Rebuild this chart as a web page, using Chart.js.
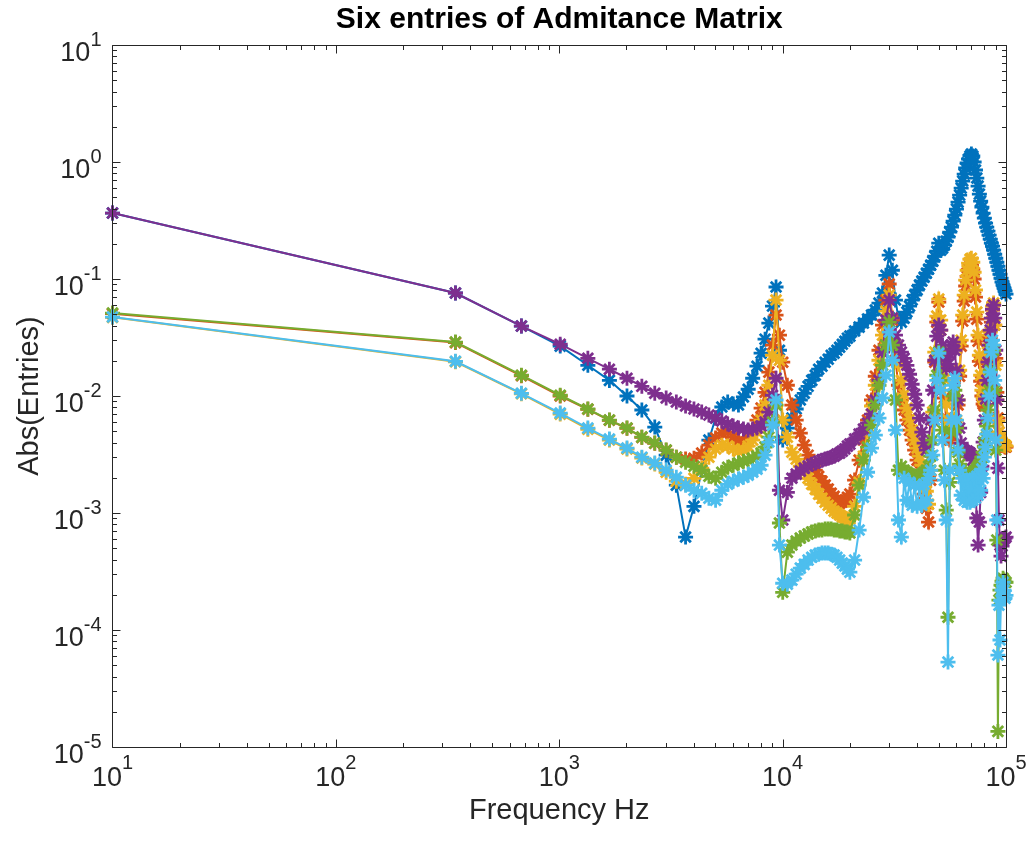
<!DOCTYPE html>
<html>
<head>
<meta charset="utf-8">
<script src="https://cdn.jsdelivr.net/npm/chart.js@4.4.0/dist/chart.umd.min.js"></script>
<style>
html,body{margin:0;padding:0;background:#ffffff;}
#wrap{width:1034px;height:848px;}
</style>
</head>
<body>
<div id="wrap"><canvas id="c" width="1034" height="848"></canvas></div>
<script>
// Frequency sweep points (Hz)
const freqHz = [10,343,677,1010,1343,1677,2010,2343,2677,3010,3343,3677,4010,4343,4677,5010,5343,5677,6010,6343,6677,7010,7343,7677,8010,8343,8677,9010,9343,9677,10010,
10500,11000,11500,12000,12500,13000,13500,14000,14500,15000,15500,16000,16500,17000,17500,18000,18500,19000,19500,20000,
21000,22000,23000,24000,25000,26000,27000,28000,29000,30000,
31000,32000,33000,34000,35000,36000,37000,38000,39000,40000,
41000,42000,43000,44000,45000,46000,47000,48000,49000,50000,
51000,52000,53000,54000,55000,56000,57000,58000,59000,60000,
61000,62000,63000,64000,65000,66000,67000,68000,69000,70000,
71000,72000,73000,74000,75000,76000,77000,78000,79000,80000,
81000,82000,83000,84000,85000,86000,87000,88000,89000,90000,
91000,92000,93000,94000,95000,96000,97000,98000,99000,100000];

// blue
const entry1 = [0.366,0.0759,0.0396,0.0267,0.0183,0.0136,0.0100,0.00759,0.00543,0.00312,0.00173,0.000623,0.00114,0.00232,0.0042,0.00648,0.00805,0.00888,0.00854,0.00837,0.00981,0.01142,0.01418,0.01797,0.02322,0.0306,0.042,0.0587,0.0854,0.0246,0.0042,
0.00532,0.00648,0.00774,0.00924,0.01055,0.0121,0.0136,0.01505,0.01694,0.01797,0.01945,0.0206,0.0223,0.0232,0.0246,0.0261,0.0277,0.0294,0.0312,0.0325,
0.0359,0.0388,0.042,0.0454,0.0492,0.0543,0.0623,0.0759,0.1076,0.160,
0.1188,0.0661,0.0463,0.0428,0.0463,0.0522,0.0587,0.0661,0.0729,0.0805,
0.0888,0.0961,0.1035,0.112,0.1211,0.1311,0.1418,0.1565,0.1728,0.2023,
0.1762,0.1833,0.1945,0.2104,0.2277,0.2513,0.2774,0.3122,0.3515,0.3957,
0.4542,0.5215,0.5987,0.6874,0.7891,0.8884,0.9805,1.061,1.126,1.171,
1.126,1.0,0.854,0.7293,0.6228,0.5319,0.4633,0.4116,0.3656,0.3313,
0.3002,0.2774,0.2563,0.2369,0.2189,0.2023,0.1907,0.1762,0.1628,0.1505,
0.1391,0.1285,0.1188,0.1098,0.1015,0.0943,0.0888,0.0837,0.0789,0.0744];

// orange
const entry2 = [0.0505,0.0286,0.0149,0.0100,0.0077,0.0062,0.0053,0.00443,0.00394,0.00344,0.003,0.00289,0.00294,0.00325,0.0038,0.00437,0.00482,0.00492,0.00445,0.00412,0.00404,0.00437,0.00511,0.00623,0.00789,0.01076,0.016,0.0272,0.0492,0.0331,0.01945,
0.01235,0.00837,0.00623,0.00482,0.0038,0.00312,0.00267,0.00232,0.00206,0.00187,0.00173,0.0016,0.001475,0.00139,0.001285,0.00121,0.00124,0.001285,0.001363,0.00145,
0.00191,0.00283,0.0042,0.00623,0.00924,0.01475,0.0246,0.0404,0.0661,0.0906,
0.0445,0.0202,0.01235,0.00924,0.00759,0.00623,0.00511,0.0042,0.00345,0.00283,
0.00232,0.00187,0.00145,0.0011,0.000837,0.00191,0.00623,0.01945,0.0428,0.0635,
0.0366,0.0166,0.00961,0.00648,0.00437,0.0042,0.00492,0.00599,0.00564,0.00543,
0.00837,0.01475,0.0267,0.0437,0.0648,0.0871,0.1055,0.1211,0.1285,0.1311,
0.1211,0.100,0.0701,0.0454,0.0294,0.0198,0.01337,0.0100,0.00854,0.00821,
0.01035,0.01337,0.01762,0.0237,0.0313,0.0428,0.0543,0.0599,0.0404,0.021,
0.01076,0.00648,0.00492,0.00428,0.00404,0.00388,0.0038,0.00373,0.00366,0.00366];

// yellow
const entry3 = [0.0470,0.0196,0.01045,0.0070,0.0052,0.0042,0.00352,0.00295,0.00262,0.00223,0.00187,0.00176,0.00198,0.00242,0.003,0.00352,0.0038,0.00373,0.00352,0.00338,0.00345,0.00373,0.0042,0.00492,0.00623,0.00837,0.01235,0.0223,0.0661,0.0202,0.00623,
0.00445,0.00331,0.00289,0.00251,0.00223,0.00198,0.00176,0.0016,0.00145,0.001337,0.001235,0.001164,0.0011,0.001035,0.001,0.000961,0.000924,0.000906,0.000888,0.000888,
0.00114,0.00183,0.00306,0.00501,0.00821,0.01235,0.0202,0.0331,0.0532,0.0729,
0.0463,0.0277,0.01869,0.0136,0.01035,0.00789,0.00635,0.00511,0.0042,0.00359,
0.00306,0.00256,0.00202,0.001535,0.001188,0.00232,0.00729,0.0237,0.0482,0.0674,
0.0445,0.0246,0.01391,0.00854,0.00623,0.00553,0.00564,0.00611,0.00635,0.0062,
0.00924,0.0166,0.030,0.0492,0.0729,0.098,0.1188,0.1363,0.1475,0.1505,
0.1391,0.1142,0.0805,0.0522,0.0331,0.0223,0.01505,0.0112,0.00961,0.00924,
0.01164,0.01505,0.01945,0.02563,0.0352,0.0463,0.0587,0.0623,0.0404,0.0183,
0.00924,0.00611,0.00492,0.00437,0.00412,0.00396,0.00388,0.0038,0.0038,0.00373];

// purple
const entry4 = [0.366,0.0759,0.0396,0.0277,0.0210,0.01694,0.01418,0.0121,0.01055,0.00961,0.00888,0.00821,0.00774,0.00729,0.00687,0.00648,0.00611,0.00576,0.00553,0.00532,0.00522,0.00511,0.00522,0.00532,0.00553,0.00599,0.00729,0.01015,0.01418,0.001565,0.000871,
0.0015,0.00198,0.00215,0.00228,0.00242,0.00251,0.00261,0.00267,0.00277,0.00283,0.00289,0.00294,0.003,0.00306,0.00319,0.00325,0.00338,0.00352,0.00373,0.00388,
0.00428,0.00473,0.00522,0.00587,0.00701,0.00924,0.0136,0.0237,0.0445,0.0661,
0.0463,0.0331,0.0272,0.0237,0.021,0.0183,0.01535,0.0126,0.01035,0.00837,
0.00648,0.00492,0.00396,0.00345,0.00388,0.00623,0.0112,0.0202,0.0325,0.0404,
0.0366,0.0272,0.021,0.01728,0.01869,0.02277,0.0272,0.0289,0.0246,0.0166,
0.00924,0.00532,0.00396,0.00352,0.00338,0.00331,0.00338,0.00331,0.00325,0.00312,
0.00283,0.00232,0.001565,0.000906,0.000532,0.000837,0.0015,0.00251,0.00404,0.00623,
0.00943,0.0136,0.01945,0.0272,0.0366,0.0463,0.0553,0.0599,0.0463,0.0246,
0.00924,0.00242,0.000871,0.000532,0.000428,0.000522,0.000576,0.000599,0.000611,0.000623];

// green
const entry5 = [0.0511,0.0289,0.01505,0.01015,0.00774,0.00623,0.00532,0.00445,0.00396,0.00345,0.003,0.00272,0.00251,0.00232,0.00206,0.00198,0.00223,0.00246,0.00256,0.00267,0.00277,0.00283,0.00294,0.00306,0.00325,0.00366,0.00445,0.00599,0.00837,0.000821,0.00021,
0.000463,0.000532,0.000576,0.000611,0.000635,0.000661,0.000687,0.000701,0.000715,0.000715,0.000729,0.000729,0.000729,0.000715,0.000715,0.000701,0.000701,0.000687,0.000687,0.000674,
0.000961,0.00173,0.00283,0.00366,0.00564,0.00837,0.01235,0.0183,0.0272,0.0428,
0.0272,0.00924,0.00232,0.00251,0.00232,0.00223,0.00215,0.0021,0.00206,0.00206,
0.0021,0.00215,0.00223,0.00232,0.00251,0.00306,0.0042,0.00759,0.01505,0.0237,
0.0136,0.00511,0.00232,0.00106,0.0001285,0.00183,0.00492,0.01,0.0112,0.00532,
0.00331,0.00261,0.00232,0.00219,0.00215,0.0021,0.0021,0.0021,0.00215,0.00219,
0.00223,0.00228,0.00232,0.00242,0.00251,0.00261,0.00277,0.003,0.00331,0.00373,
0.00437,0.00553,0.00759,0.0112,0.0166,0.0237,0.0272,0.0246,0.0112,0.00345,
0.000587,0.0000136,0.00018,0.000219,0.000242,0.000261,0.000277,0.000267,0.000256,0.000256];

// light blue
const entry6 = [0.0473,0.0198,0.01055,0.00715,0.00532,0.00428,0.00359,0.003,0.00267,0.00232,0.00202,0.00173,0.001565,0.001475,0.001337,0.001285,0.001565,0.00176,0.00187,0.00195,0.00202,0.0021,0.00223,0.00237,0.00256,0.00312,0.00404,0.00564,0.00924,0.000532,0.000251,
0.000246,0.000267,0.0003,0.000338,0.000364,0.000396,0.000419,0.000437,0.000445,0.000454,0.000454,0.000454,0.000445,0.000437,0.000419,0.000396,0.000373,0.000352,0.000331,0.000312,
0.000396,0.000715,0.001363,0.00223,0.00359,0.00463,0.00648,0.00961,0.01505,0.0352,
0.0202,0.00511,0.000871,0.000623,0.00198,0.001285,0.00183,0.001164,0.00173,0.00114,
0.00169,0.001164,0.00176,0.001285,0.00198,0.00232,0.00312,0.00623,0.0136,0.0232,
0.0112,0.0042,0.001907,0.000871,0.0000532,0.00232,0.00623,0.01235,0.01418,0.00623,
0.00345,0.00232,0.001418,0.00198,0.001285,0.001907,0.001235,0.00187,0.001235,0.001907,
0.001285,0.00198,0.001337,0.00206,0.001418,0.00215,0.001565,0.00237,0.00198,0.003,
0.00366,0.00473,0.00648,0.01,0.016,0.0237,0.03,0.0272,0.0136,0.0042,
0.000871,0.0000611,0.000163,0.0000821,0.00018,0.000219,0.000256,0.000219,0.000187,0.000198];

const seriesNames = ['Entry 1','Entry 2','Entry 3','Entry 4','Entry 5','Entry 6'];
const seriesColors = ['#0072BD','#D95319','#EDB120','#7E2F8E','#77AC30','#4DBEEE'];
const seriesValues = [entry1, entry2, entry3, entry4, entry5, entry6];

const xTickValues = [10, 100, 1000, 10000, 100000];
const xTickExponents = ['1','2','3','4','5'];
const yTickValues = [1e-5, 1e-4, 1e-3, 1e-2, 1e-1, 1, 10];
const yTickExponents = ['-5','-4','-3','-2','-1','0','1'];

const titleText = 'Six entries of Admitance Matrix';
const xLabelText = 'Frequency Hz';
const yLabelText = 'Abs(Entries)';

const FONT = "'Liberation Sans', Arial, Helvetica, sans-serif";
const AXIS_COLOR = '#262626';

function toPoints(vals) {
  return freqHz.map((f, i) => ({ x: f, y: vals[i] }));
}

const matlabAxes = {
  id: 'matlabAxes',
  afterDatasetsDraw(chart) {
    const ctx = chart.ctx, a = chart.chartArea;
    const xs = chart.scales.x, ys = chart.scales.y;
    const L = Math.round(a.left) + 0.5, R = Math.round(a.right) + 0.5;
    const T = Math.round(a.top) + 0.5, B = Math.round(a.bottom) + 0.5;
    const MAJ = 8, MIN = 4.5;
    ctx.save();
    ctx.strokeStyle = AXIS_COLOR;
    ctx.lineWidth = 1;
    ctx.beginPath();
    ctx.rect(L, T, R - L, B - T);
    xTickValues.forEach((v, i) => {
      const p = Math.round(xs.getPixelForValue(v)) + 0.5;
      ctx.moveTo(p, B); ctx.lineTo(p, B - MAJ);
      ctx.moveTo(p, T); ctx.lineTo(p, T + MAJ);
      if (i < xTickValues.length - 1) {
        for (let m = 2; m <= 9; m++) {
          const q = Math.round(xs.getPixelForValue(v * m)) + 0.5;
          ctx.moveTo(q, B); ctx.lineTo(q, B - MIN);
          ctx.moveTo(q, T); ctx.lineTo(q, T + MIN);
        }
      }
    });
    yTickValues.forEach((v, i) => {
      const p = Math.round(ys.getPixelForValue(v)) + 0.5;
      ctx.moveTo(L, p); ctx.lineTo(L + MAJ, p);
      ctx.moveTo(R, p); ctx.lineTo(R - MAJ, p);
      if (i < yTickValues.length - 1) {
        for (let m = 2; m <= 9; m++) {
          const q = Math.round(ys.getPixelForValue(v * m)) + 0.5;
          ctx.moveTo(L, q); ctx.lineTo(L + MIN, q);
          ctx.moveTo(R, q); ctx.lineTo(R - MIN, q);
        }
      }
    });
    ctx.stroke();

    ctx.fillStyle = AXIS_COLOR;
    ctx.textBaseline = 'alphabetic';
    ctx.textAlign = 'left';
    const baseFont = '27px ' + FONT, expFont = '20px ' + FONT;
    xTickValues.forEach((v, i) => {
      const p = xs.getPixelForValue(v);
      ctx.font = baseFont; const w10 = ctx.measureText('10').width;
      ctx.font = expFont; const we = ctx.measureText(xTickExponents[i]).width;
      const start = p - (w10 + we) / 2;
      ctx.font = baseFont; ctx.fillText('10', start, B + 38);
      ctx.font = expFont; ctx.fillText(xTickExponents[i], start + w10, B + 21);
    });
    yTickValues.forEach((v, i) => {
      const p = ys.getPixelForValue(v);
      ctx.font = baseFont; const w10 = ctx.measureText('10').width;
      ctx.font = expFont; const we = ctx.measureText(yTickExponents[i]).width;
      const right = L - 11;
      const start = right - we - w10;
      ctx.font = baseFont; ctx.fillText('10', start, p + 16);
      ctx.font = expFont; ctx.fillText(yTickExponents[i], start + w10, p + 1);
    });
    ctx.restore();
  }
};

const datasets = seriesValues.map((vals, i) => ({
  label: seriesNames[i],
  data: toPoints(vals),
  borderColor: seriesColors[i],
  backgroundColor: seriesColors[i],
  pointBorderColor: seriesColors[i],
  pointBackgroundColor: seriesColors[i],
  borderWidth: 2,
  pointStyle: 'star',
  pointRadius: 7.5,
  pointHoverRadius: 7.5,
  pointBorderWidth: 2.8,
  tension: 0,
  fill: false,
  clip: false,
  order: seriesValues.length - i
}));

new Chart(document.getElementById('c'), {
  type: 'line',
  data: { datasets },
  options: {
    responsive: false,
    animation: false,
    devicePixelRatio: 1,
    events: [],
    layout: { padding: { left: 5, right: 28, top: 0, bottom: 5 } },
    plugins: {
      legend: { display: false },
      tooltip: { enabled: false },
      title: {
        display: true,
        text: titleText,
        color: '#000000',
        fullSize: false,
        font: { family: FONT, size: 30, weight: 'bold' },
        padding: { top: 2, bottom: 7 }
      }
    },
    scales: {
      x: {
        type: 'logarithmic',
        min: 10,
        max: 100000,
        grid: { display: false, drawTicks: false },
        border: { display: false },
        ticks: { display: false },
        title: {
          display: true,
          text: xLabelText,
          color: AXIS_COLOR,
          font: { family: FONT, size: 29 },
          padding: { top: 46.6, bottom: 14.6 }
        }
      },
      y: {
        type: 'logarithmic',
        min: 1e-5,
        max: 10,
        grid: { display: false, drawTicks: false },
        border: { display: false },
        ticks: { display: false },
        title: {
          display: true,
          text: yLabelText,
          color: AXIS_COLOR,
          font: { family: FONT, size: 29 },
          padding: { top: 7.6, bottom: 65.1 }
        }
      }
    }
  },
  plugins: [matlabAxes]
});
</script>
</body>
</html>
